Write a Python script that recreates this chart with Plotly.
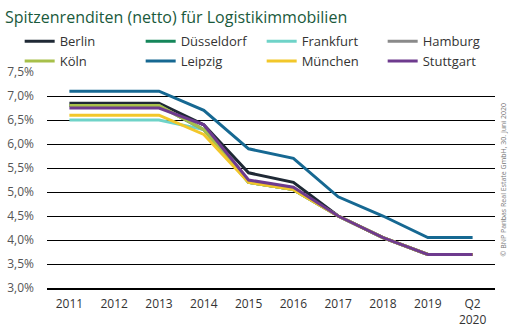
import plotly.graph_objects as go

years = ["2011", "2012", "2013", "2014", "2015", "2016", "2017", "2018", "2019", "Q2<br>2020"]
cities = ["Berlin", "Düsseldorf", "Frankfurt", "Hamburg", "Köln", "Leipzig", "München", "Stuttgart"]
berlin = [6.85, 6.85, 6.85, 6.4, 5.4, 5.2, 4.5, 4.05, 3.7, 3.7]
duesseldorf = [6.8, 6.8, 6.8, 6.3, 5.2, 5.05, 4.5, 4.05, 3.7, 3.7]
frankfurt = [6.5, 6.5, 6.5, 6.3, 5.2, 5.05, 4.5, 4.05, 3.7, 3.7]
hamburg = [6.8, 6.8, 6.8, 6.3, 5.2, 5.05, 4.5, 4.05, 3.7, 3.7]
koeln = [6.8, 6.8, 6.8, 6.3, 5.2, 5.05, 4.5, 4.05, 3.7, 3.7]
leipzig = [7.1, 7.1, 7.1, 6.7, 5.9, 5.7, 4.9, 4.5, 4.05, 4.05]
muenchen = [6.6, 6.6, 6.6, 6.2, 5.2, 5.05, 4.5, 4.05, 3.7, 3.7]
stuttgart = [6.75, 6.75, 6.75, 6.4, 5.25, 5.1, 4.5, 4.05, 3.7, 3.7]
series = [berlin, duesseldorf, frankfurt, hamburg, koeln, leipzig, muenchen, stuttgart]
colors = ["#1f2935", "#15865a", "#6fd3c8", "#8a8a8a", "#a7c04a", "#166892", "#f2c72a", "#6e3b8e"]
y_ticks = [3.0, 3.5, 4.0, 4.5, 5.0, 5.5, 6.0, 6.5, 7.0, 7.5]
y_tick_labels = ["3,0%", "3,5%", "4,0%", "4,5%", "5,0%", "5,5%", "6,0%", "6,5%", "7,0%", "7,5%"]

fig = go.Figure()
for name, vals, col in zip(cities, series, colors):
    fig.add_trace(go.Scatter(x=years, y=vals, name=name, mode="lines",
                             line=dict(color=col, width=3)))

fig.update_layout(
    width=520, height=330,
    margin=dict(l=47, r=25, t=72, b=42),
    plot_bgcolor="white", paper_bgcolor="white",
    font=dict(family="Open Sans", color="#333333", size=12),
    title=dict(text="Spitzenrenditen (netto) für Logistikimmobilien",
               x=5/520, xanchor="left", xref="container",
               y=1-17/330, yanchor="middle", yref="container",
               font=dict(family="Open Sans", size=16, color="#1a5a3c")),
    legend=dict(orientation="h", x=-0.061, xanchor="left", y=1.212, yanchor="top",
                entrywidth=76, entrywidthmode="pixels",
                font=dict(size=13, color="#333333"), tracegroupgap=0,
                itemwidth=30, bgcolor="rgba(0,0,0,0)"),
    showlegend=True,
)
fig.update_xaxes(type="category", range=[-0.5, 9.5], showgrid=False,
                 showline=True, linecolor="black", linewidth=2, automargin=False,
                 ticks="", ticklabelstandoff=4, tickfont=dict(size=12, color="#333333"))
fig.update_yaxes(range=[3.0, 7.5], tickvals=y_ticks, ticktext=y_tick_labels,
                 showgrid=True, gridcolor="black", gridwidth=1, zeroline=False,
                 automargin=False,
                 ticklabelstandoff=12, tickfont=dict(size=12, color="#555555"))
fig.add_annotation(text="© BNP Paribas Real Estate GmbH, 30. Juni 2020",
                   xref="paper", yref="paper", x=(509-47)/448, y=0.5,
                   textangle=-90, showarrow=False,
                   font=dict(size=7, color="#777777"))
fig.write_html("out.html")
